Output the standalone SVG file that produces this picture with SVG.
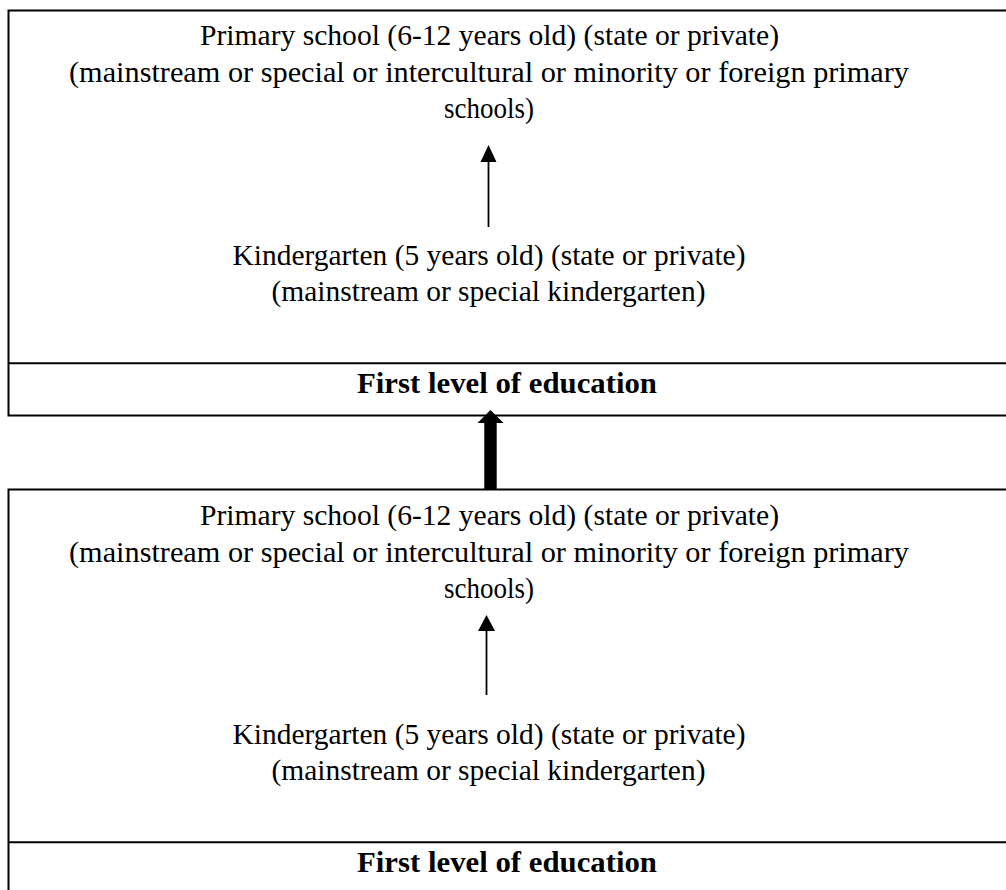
<svg xmlns="http://www.w3.org/2000/svg" width="1006" height="890" viewBox="0 0 1006 890">
<style>
.box{fill:none;stroke:#000;stroke-width:2}
.t{font-family:"Liberation Serif","Times New Roman",serif;font-size:29.5px;fill:#000;text-anchor:middle}
.b{font-weight:bold;font-size:29.5px}
.ln{stroke:#000;stroke-width:2;fill:none}
.ar{stroke:#000;stroke-width:1.8;fill:none}
</style>
<g id="box-top">
<rect class="box" x="8.5" y="10.5" width="1010" height="405"/>
<line class="ln" x1="8.5" y1="363.3" x2="1010" y2="363.3"/>
<text class="t" x="489.5" y="45" textLength="579" lengthAdjust="spacingAndGlyphs">Primary school (6-12 years old) (state or private)</text>
<text class="t" x="489" y="81.5" textLength="840" lengthAdjust="spacingAndGlyphs">(mainstream or special or intercultural or minority or foreign primary</text>
<text class="t" x="489" y="118" textLength="90" lengthAdjust="spacingAndGlyphs">schools)</text>
<text class="t" x="489" y="265" textLength="513" lengthAdjust="spacingAndGlyphs">Kindergarten (5 years old) (state or private)</text>
<text class="t" x="488.5" y="300.5" textLength="434" lengthAdjust="spacingAndGlyphs">(mainstream or special kindergarten)</text>
<text class="t b" x="507" y="393" textLength="300" lengthAdjust="spacingAndGlyphs">First level of education</text>
</g>
<g id="box-bottom">
<rect class="box" x="8.5" y="489.5" width="1010" height="420"/>
<line class="ln" x1="8.5" y1="842.3" x2="1010" y2="842.3"/>
<text class="t" x="489.5" y="525" textLength="579" lengthAdjust="spacingAndGlyphs">Primary school (6-12 years old) (state or private)</text>
<text class="t" x="489" y="561.5" textLength="840" lengthAdjust="spacingAndGlyphs">(mainstream or special or intercultural or minority or foreign primary</text>
<text class="t" x="489" y="598" textLength="90" lengthAdjust="spacingAndGlyphs">schools)</text>
<text class="t" x="489" y="744" textLength="513" lengthAdjust="spacingAndGlyphs">Kindergarten (5 years old) (state or private)</text>
<text class="t" x="488.5" y="779.5" textLength="434" lengthAdjust="spacingAndGlyphs">(mainstream or special kindergarten)</text>
<text class="t b" x="507" y="872" textLength="300" lengthAdjust="spacingAndGlyphs">First level of education</text>
</g>
<g id="connectors">
<line class="ar" x1="488.5" y1="227" x2="488.5" y2="160"/>
<polygon points="488.5,145 480.5,162 496.5,162" fill="#000"/>
<line class="ar" x1="486.5" y1="695" x2="486.5" y2="629"/>
<polygon points="486.5,615 478,631 495,631" fill="#000"/>
<polygon points="490.5,410 503.5,423 496.7,423 496.7,490 484.3,490 484.3,423 477.5,423" fill="#000"/>
</g>
</svg>
